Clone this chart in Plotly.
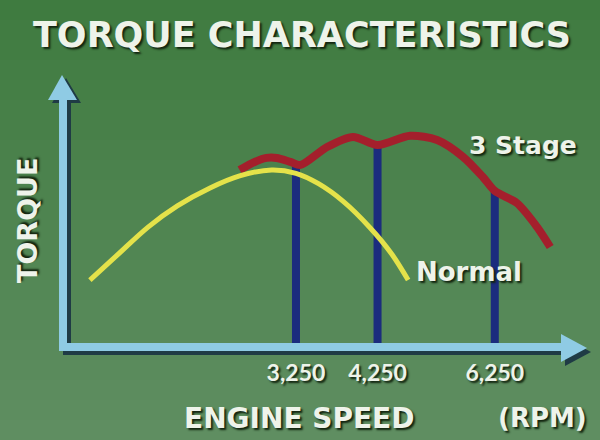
import plotly.graph_objects as go

# ---- data (RPM, relative torque) ----
normal_rpm = [1650, 1800, 2000, 2200, 2450, 2700, 3000, 3250, 3500, 3800, 4150, 4450, 4700]
normal_torque = [23.9, 32.5, 42.9, 50.4, 56.8, 61.1, 63.2, 62.0, 58.3, 51.9, 42.5, 33.3, 23.9]

stage3_rpm = [2700, 2800, 2950, 3050, 3190, 3300, 3600, 3920, 4250, 4730, 5170, 5630, 6010, 6250, 6720, 7180, 7500]
stage3_torque = [63.2, 65.4, 67.5, 67.5, 66.1, 65.0, 71.4, 75.0, 72.1, 75.4, 73.9, 67.9, 60.7, 55.7, 51.4, 42.9, 35.7]

switch_rpm = [3250, 4250, 6250]
switch_torque = [66.0, 72.1, 55.7]
tick_labels = ["3,250", "4,250", "6,250"]

AXIS = "#8fcbe4"
AXSHADOW = "#1f3b45"
TXT = "#eef3ea"
FONT = "DejaVu Sans"
SHADOW = "2px 2px 2px #12240f"

fig = go.Figure()

# vertical switch-over bars
for r, t in zip(switch_rpm, switch_torque):
    fig.add_trace(go.Scatter(x=[r, r], y=[0, t], mode="lines",
                             line=dict(color="#1b2c7e", width=8),
                             hoverinfo="skip", showlegend=False))

fig.add_trace(go.Scatter(x=stage3_rpm, y=stage3_torque, mode="lines",
                         line=dict(color="#a41f2c", width=8, shape="spline", smoothing=0.8),
                         name="3 Stage", showlegend=False))
fig.add_trace(go.Scatter(x=normal_rpm, y=normal_torque, mode="lines",
                         line=dict(color="#e4e24a", width=5, shape="spline"),
                         name="Normal", showlegend=False))

L, R, T, B = 64, 13, 75, 93
W, H = 600, 440
pw, ph = W - L - R, H - T - B

def px(x):
    return (x - L) / pw

def py(y):
    return (H - B - y) / ph

shapes = []
# background gradient (top dark green -> lighter green at bottom)
top_rgb = (0x3f, 0x7b, 0x40)
bot_rgb = (0x5f, 0x8e, 0x61)
nb = 22
for i in range(nb):
    f = i / (nb - 1)
    c = tuple(round(a + (b - a) * f) for a, b in zip(top_rgb, bot_rgb))
    y0 = H * i / nb
    y1 = H * (i + 1) / nb + 1
    shapes.append(dict(type="rect", xref="paper", yref="paper", layer="below",
                       x0=px(-5), x1=px(W + 5), y0=py(y0), y1=py(y1),
                       fillcolor="rgb(%d,%d,%d)" % c, line=dict(width=0)))
# axis shadows
shapes.append(dict(type="line", xref="paper", yref="paper", x0=px(67), y0=py(350), x1=px(67), y1=py(96),
                   line=dict(color=AXSHADOW, width=8)))
shapes.append(dict(type="line", xref="paper", yref="paper", x0=px(63), y0=py(351), x1=px(568), y1=py(351),
                   line=dict(color=AXSHADOW, width=8)))
shapes.append(dict(type="path", xref="paper", yref="paper",
                   path=f"M {px(52)} {py(103)} L {px(81)} {py(103)} L {px(66)} {py(78)} Z",
                   fillcolor=AXSHADOW, line=dict(width=0)))
shapes.append(dict(type="path", xref="paper", yref="paper",
                   path=f"M {px(565)} {py(338)} L {px(565)} {py(366)} L {px(591)} {py(352)} Z",
                   fillcolor=AXSHADOW, line=dict(width=0)))
# axes
shapes.append(dict(type="line", xref="paper", yref="paper", x0=px(63), y0=py(351), x1=px(63), y1=py(96),
                   line=dict(color=AXIS, width=8)))
shapes.append(dict(type="line", xref="paper", yref="paper", x0=px(59), y0=py(347), x1=px(565), y1=py(347),
                   line=dict(color=AXIS, width=8)))
shapes.append(dict(type="path", xref="paper", yref="paper",
                   path=f"M {px(48)} {py(100)} L {px(77)} {py(100)} L {px(62)} {py(75)} Z",
                   fillcolor=AXIS, line=dict(width=0)))
shapes.append(dict(type="path", xref="paper", yref="paper",
                   path=f"M {px(561)} {py(334)} L {px(561)} {py(362)} L {px(587)} {py(348)} Z",
                   fillcolor=AXIS, line=dict(width=0)))

def ann(text, x, y, size, xanchor="center", textangle=0):
    return dict(text=text, xref="paper", yref="paper", x=px(x), y=py(y), showarrow=False,
                xanchor=xanchor, yanchor="middle", textangle=textangle,
                font=dict(family=FONT, size=size, color=TXT, weight="bold", shadow=SHADOW))

annotations = [
    ann("TORQUE CHARACTERISTICS", 302, 35, 35),
    ann("TORQUE", 27, 221, 27, textangle=-90),
    ann("ENGINE SPEED", 299, 418, 28),
    ann("(RPM)", 542, 418, 26),
    ann("3 Stage", 467, 145, 25, xanchor="left"),
    ann("Normal", 414, 272, 26, xanchor="left"),
]

fig.update_layout(
    width=W, height=H,
    margin=dict(l=L, r=R, t=T, b=B),
    paper_bgcolor="#4e8150", plot_bgcolor="rgba(0,0,0,0)",
    shapes=shapes, annotations=annotations,
    xaxis=dict(type="log", range=[3.1805, 3.9276], showgrid=False, zeroline=False,
               showline=False, tickvals=switch_rpm, ticktext=tick_labels, ticks="",
               ticklabelstandoff=10,
               tickfont=dict(family="Lato", size=23, color=TXT, weight="bold", shadow=SHADOW)),
    yaxis=dict(range=[0, 97.1], showgrid=False, zeroline=False, showline=False,
               showticklabels=False, ticks=""),
    showlegend=False,
)

fig.write_html("out.html", config={"displayModeBar": False},
               post_script="document.body.style.margin='0';document.body.style.overflow='hidden';")
